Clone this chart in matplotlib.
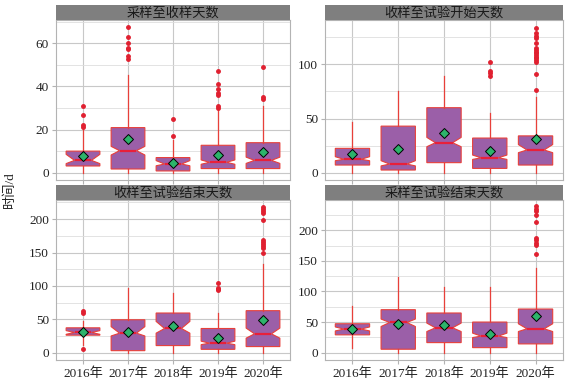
import numpy as np
import matplotlib
matplotlib.use('Agg')
import matplotlib.pyplot as plt
from matplotlib.ticker import MultipleLocator

plt.rcParams['font.family'] = ['Liberation Serif', 'Noto Sans CJK SC']
plt.rcParams['font.size'] = 9.5

years = ['2016年', '2017年', '2018年', '2019年', '2020年']
titles = ['采样至收样天数', '收样至试验开始天数', '收样至试验结束天数', '采样至试验结束天数']

# box statistics, one row per panel
q1 = [[3.1, 1.7, 0.8, 1.9, 1.9],
      [7.1, 2.5, 9.3, 4.0, 7.1],
      [26.2, 3.0, 10.6, 5.0, 9.1],
      [29.1, 5.6, 16.4, 8.2, 14.3]]
med = [[5.7, 10.2, 4.0, 4.8, 5.7],
       [12.4, 8.0, 27.7, 13.8, 21.0],
       [30.2, 29.2, 36.2, 14.2, 28.2],
       [38.5, 49.3, 40.6, 27.0, 39.0]]
q3 = [[10.0, 20.9, 7.0, 12.7, 13.9],
      [22.5, 43.0, 60.0, 32.0, 34.0],
      [37.2, 49.3, 59.4, 36.2, 62.9],
      [47.2, 70.2, 64.8, 50.0, 71.3]]
whislo = [[0, 0, 0, 0, 0],
          [0, 0, 0, 0, 0],
          [12, 0, 0, 0, 0],
          [7.2, 0, 0, 0, 0]]
whishi = [[20.5, 45.3, 15.0, 29.5, 31.0],
          [46.5, 75.6, 89.0, 54.8, 70.0],
          [47.0, 97.0, 89.5, 60.0, 133.0],
          [75.6, 123.0, 107.0, 107.5, 138.0]]
cilo = [[4.2, 8.2, 3.2, 3.9, 4.3],
        [11.1, 6.3, 24.0, 12.3, 18.5],
        [27.5, 25.0, 29.2, 12.0, 21.7],
        [35.5, 42.7, 34.5, 24.7, 34.5]]
cihi = [[8.5, 12.2, 5.6, 5.9, 7.2],
        [14.8, 11.1, 32.6, 16.3, 26.0],
        [33.0, 39.0, 46.8, 17.2, 36.8],
        [42.0, 54.9, 48.3, 31.9, 47.2]]
means = [[7.5, 15.5, 4.6, 8.3, 9.5],
         [17.2, 22.0, 36.3, 20.0, 31.4],
         [31.2, 30.2, 39.2, 22.2, 49.3],
         [39.0, 46.7, 44.4, 30.2, 59.2]]
fliers = [
    [[21.0, 22.0, 26.7, 30.9], [52.7, 54.0, 57.2, 58.0, 60.0, 63.0, 67.4], [17.0, 24.9],
     [30.1, 30.9, 36.0, 36.8, 38.9, 41.1, 47.1], [34.3, 35.0, 49.1]],
    [[], [], [], [89.2, 91.7, 94.0, 102.4],
     [76.3, 91.0, 102.5, 104, 105.5, 107, 108.5, 110, 111.5, 113, 114.8, 119.3, 124.3, 126.4, 128.6, 133.8]],
    [[5.0, 60.0, 62.0], [], [], [93.5, 95.0, 96.5, 104.6],
     [148.8, 157.4, 160.0, 163.0, 165.5, 168.4, 198.5, 208.6, 211.6, 215.1, 218.6]],
    [[], [], [], [],
     [161.8, 175.9, 179.8, 183.6, 188.0, 213.7, 225.2, 231.0, 234.6, 239.0]],
]

ylims = [(-3.4, 70.8), (-6.7, 140.9), (-11, 228.7), (-12, 249.4)]
major = [20, 50, 50, 50]

W, H = 573, 384
fig = plt.figure(figsize=(W / 100, H / 100), dpi=100)

# pixel boxes: (left, top, width, height)
plot_boxes = [(56, 20, 234, 160), (325, 20, 238, 160), (56, 200, 234, 160), (325, 200, 238, 160)]
strip_h = 15

def frac(l, t, w, h):
    return [l / W, 1 - (t + h) / H, w / W, h / H]

for i in range(4):
    l, t, w, h = plot_boxes[i]
    ax = fig.add_axes(frac(l, t, w, h))
    sx = fig.add_axes(frac(l, t - strip_h, w, strip_h))
    sx.set_facecolor('#7f7f7f')
    sx.set_xticks([]); sx.set_yticks([])
    for s in sx.spines.values():
        s.set_visible(False)
    sx.text(0.5, 0.45, titles[i], ha='center', va='center', color='#1a1a1a',
            fontsize=9.5, transform=sx.transAxes)

    stats = []
    for j in range(5):
        stats.append(dict(med=med[i][j], q1=q1[i][j], q3=q3[i][j],
                          whislo=whislo[i][j], whishi=whishi[i][j],
                          cilo=cilo[i][j], cihi=cihi[i][j],
                          mean=means[i][j], fliers=fliers[i][j]))
    ax.bxp(stats, positions=np.arange(1, 6), widths=0.75, shownotches=True,
           showmeans=True, showcaps=False, patch_artist=True,
           boxprops=dict(facecolor='#9b5fa8', edgecolor='#e8403a', linewidth=0.8),
           medianprops=dict(color='#e8203a', linewidth=1.6),
           whiskerprops=dict(color='#e8403a', linewidth=0.9),
           meanprops=dict(marker='D', markerfacecolor='#2db36b', markeredgecolor='black',
                          markersize=5.5, markeredgewidth=0.7),
           flierprops=dict(marker='o', markerfacecolor='#e02030', markeredgecolor='#e02030',
                           markersize=2.5))

    ax.set_xlim(0.4, 5.6)
    ax.set_ylim(*ylims[i])
    ax.yaxis.set_major_locator(MultipleLocator(major[i]))
    ax.yaxis.set_minor_locator(MultipleLocator(major[i] / 2))
    ax.set_xticks(np.arange(1, 6))
    ax.grid(True, which='major', color='#c8c8c8', linewidth=0.8)
    ax.grid(True, which='minor', axis='y', color='#dedede', linewidth=0.6)
    ax.set_axisbelow(True)
    for s in ax.spines.values():
        s.set_color('#b3b3b3')
        s.set_linewidth(0.8)
    ax.tick_params(axis='both', which='major', length=3, color='#b3b3b3', labelsize=9.5,
                   labelcolor='#222222', pad=2)
    ax.tick_params(axis='y', which='minor', length=0)
    if i >= 2:
        ax.set_xticklabels(years)
    else:
        ax.set_xticklabels([])

fig.text(10 / W, 1 - 190 / H, '时间/d', rotation=90, ha='center', va='center', fontsize=9.5,
         color='#222222')

fig.savefig('out.png', dpi=100)
